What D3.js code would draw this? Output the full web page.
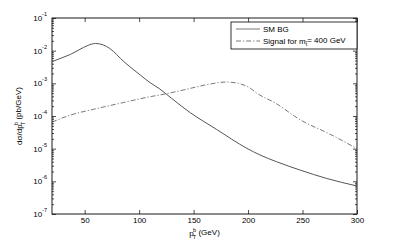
<!DOCTYPE html>
<html>
<head>
<meta charset="utf-8">
<script src="https://cdn.jsdelivr.net/npm/d3@7"></script>
<style>
  body { margin: 0; background: #fff; }
  text { font-family: "Liberation Sans", Arial, sans-serif; }
</style>
</head>
<body>
<div id="chart"></div>
<script>
const [W, H] = [395, 244];

// SM background (solid)
const bg_pt = [20, 30, 37, 49, 53, 60, 67, 73, 86, 101, 110, 119, 124, 147, 171, 199, 211, 226, 248, 272, 300];
const bg_val = [4.6e-3, 6.2e-3, 7.7e-3, 1.26e-2, 1.45e-2, 1.66e-2, 1.5e-2, 1.17e-2, 4.6e-3, 1.8e-3, 1.05e-3, 6.7e-4, 4.95e-4, 1.26e-4, 3.9e-5, 1.02e-5, 6.4e-6, 4.0e-6, 2.2e-6, 1.23e-6, 7.2e-7];

// signal for m = 400 GeV (dash-dot)
const sig_pt = [20, 37, 58, 86, 110, 119, 141, 165, 180, 191, 202, 208, 225, 248, 275, 300];
const sig_val = [6.5e-5, 1.07e-4, 1.6e-4, 2.6e-4, 3.9e-4, 4.4e-4, 6.3e-4, 9.5e-4, 1.1e-3, 1.0e-3, 7.1e-4, 5.0e-4, 2.5e-4, 7.6e-5, 2.8e-5, 1.0e-5];

const x_ticks = [50, 100, 150, 200, 250, 300];
const y_exps = [-1, -2, -3, -4, -5, -6, -7];

const margin = {top: 18, right: 38, bottom: 30, left: 52};
const width = W - margin.left - margin.right;
const height = H - margin.top - margin.bottom;

const svg = d3.select("#chart")
  .append("svg")
  .attr("width", W)
  .attr("height", H);

const g = svg.append("g")
  .attr("transform", `translate(${margin.left},${margin.top})`);

const x = d3.scaleLinear().domain([20, 300]).range([0, width]);
const y = d3.scaleLog().domain([1e-7, 1e-1]).range([height, 0]);

const minor = [];
for (let e = -7; e < -1; e++) {
  for (let m = 2; m <= 9; m++) minor.push(m * Math.pow(10, e));
}
const major = y_exps.map(e => Math.pow(10, e));

function style_axis(sel) {
  sel.select(".domain").remove();
  sel.selectAll("line").attr("stroke", "#000").attr("stroke-width", 0.7);
}

// minor log ticks, left and right
g.append("g").call(d3.axisLeft(y).tickValues(minor).tickSize(-2).tickFormat("")).call(style_axis);
g.append("g").attr("transform", `translate(${width},0)`)
  .call(d3.axisRight(y).tickValues(minor).tickSize(-2).tickFormat("")).call(style_axis);

// major y ticks
const yl = g.append("g").call(d3.axisLeft(y).tickValues(major).tickSize(-4).tickFormat(""));
style_axis(yl);
g.append("g").attr("transform", `translate(${width},0)`)
  .call(d3.axisRight(y).tickValues(major).tickSize(-4).tickFormat("")).call(style_axis);

yl.selectAll(".tick").each(function(d) {
  const t = d3.select(this).append("text")
    .attr("x", -5).attr("dy", "0.32em")
    .attr("text-anchor", "end")
    .attr("fill", "#000")
    .attr("font-size", 8);
  t.append("tspan").text("10");
  t.append("tspan").attr("font-size", 5.5).attr("dy", "-0.9em").text(Math.round(Math.log10(d)));
});

// x ticks bottom and top
g.append("g").attr("transform", `translate(0,${height})`)
  .call(d3.axisBottom(x).tickValues(x_ticks).tickSize(-4).tickPadding(3))
  .call(style_axis)
  .selectAll("text").attr("font-size", 8).attr("fill", "#000")
  .attr("font-family", "Liberation Sans, Arial, sans-serif");
g.append("g")
  .call(d3.axisTop(x).tickValues(x_ticks).tickSize(-4).tickFormat(""))
  .call(style_axis);

// box
g.append("rect")
  .attr("width", width).attr("height", height)
  .attr("fill", "none").attr("stroke", "#000").attr("stroke-width", 0.9);

const line = d3.line()
  .x(d => x(d[0]))
  .y(d => y(d[1]))
  .curve(d3.curveMonotoneX);

g.append("path")
  .datum(d3.zip(bg_pt, bg_val))
  .attr("d", line)
  .attr("fill", "none")
  .attr("stroke", "#555")
  .attr("stroke-width", 1);

g.append("path")
  .datum(d3.zip(sig_pt, sig_val))
  .attr("d", line)
  .attr("fill", "none")
  .attr("stroke", "#555")
  .attr("stroke-width", 0.8)
  .attr("stroke-dasharray", "5,2,1.2,2");

// legend
const lg = g.append("g").attr("transform", `translate(${width - 126},4)`);
lg.append("rect")
  .attr("width", 126).attr("height", 27)
  .attr("fill", "#fff").attr("stroke", "#000").attr("stroke-width", 0.8);
lg.append("line").attr("x1", 5).attr("x2", 29).attr("y1", 7).attr("y2", 7)
  .attr("stroke", "#777").attr("stroke-width", 1);
lg.append("line").attr("x1", 5).attr("x2", 29).attr("y1", 19).attr("y2", 19)
  .attr("stroke", "#555").attr("stroke-width", 0.8).attr("stroke-dasharray", "5,2,1.2,2");
lg.append("text").attr("x", 32).attr("y", 10).attr("font-size", 8).text("SM BG");
const st = lg.append("text").attr("x", 32).attr("y", 22).attr("font-size", 8);
st.append("tspan").text("Signal for m");
st.append("tspan").attr("font-size", 5.5).attr("dy", "0.35em").text("t\u0303");
st.append("tspan").attr("dy", "-0.35em").text("= 400 GeV");

// x label
const xl = svg.append("text")
  .attr("x", margin.left + width / 2)
  .attr("y", H - 8)
  .attr("text-anchor", "middle")
  .attr("font-size", 8);
xl.append("tspan").text("p");
xl.append("tspan").attr("font-size", 5.5).attr("dx", "-0.1em").attr("dy", "-0.7em").text("b");
xl.append("tspan").attr("font-size", 5.5).attr("dx", "-0.6em").attr("dy", "1.2em").text("T");
xl.append("tspan").attr("dy", "-0.5em").text(" (GeV)");

// y label
const ylab = svg.append("text")
  .attr("transform", `translate(22,${margin.top + height / 2}) rotate(-90)`)
  .attr("text-anchor", "middle")
  .attr("font-size", 8);
ylab.append("tspan").text("d\u03c3/dp");
ylab.append("tspan").attr("font-size", 5.5).attr("dx", "-0.1em").attr("dy", "-0.7em").text("b");
ylab.append("tspan").attr("font-size", 5.5).attr("dx", "-0.6em").attr("dy", "1.2em").text("T");
ylab.append("tspan").attr("dy", "-0.5em").text(" (pb/GeV)");
</script>
</body>
</html>
